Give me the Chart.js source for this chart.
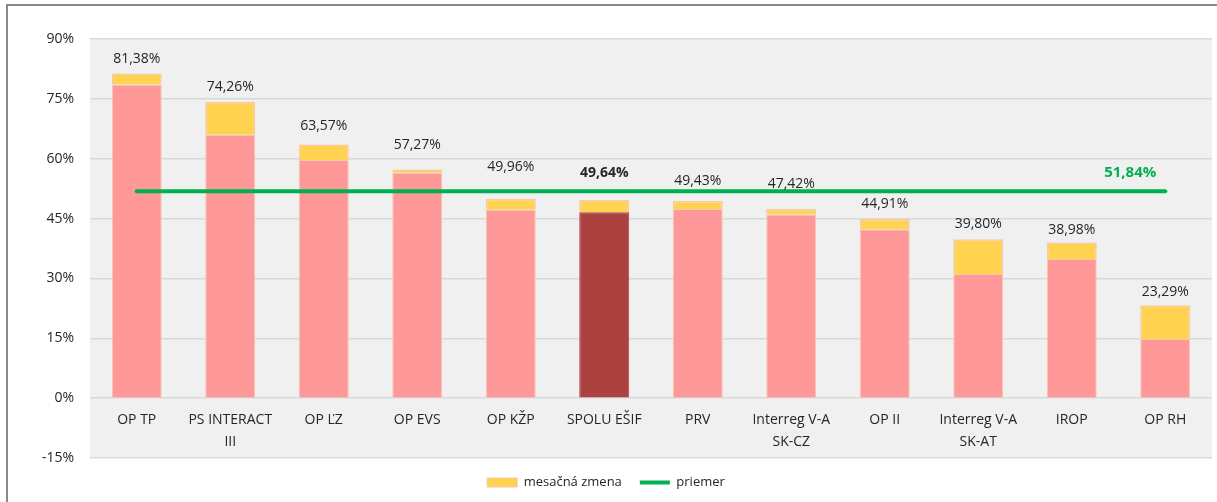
<!DOCTYPE html>
<html>
<head>
<meta charset="utf-8">
<script src="https://cdn.jsdelivr.net/npm/chart.js@4.4.1/dist/chart.umd.min.js"></script>
<style>
    body { margin: 0; background: #fff; overflow: hidden; }
    #wrap { position: relative; width: 1217px; height: 502px; }
    #frame { position: absolute; left: 6px; top: 4px; width: 1220px; height: 520px;
             border-left: 2px solid #8a8a8a; border-top: 2px solid #8a8a8a; }
    canvas { position: absolute; left: 0; top: 0; }
</style>
</head>
<body>
<div id="wrap">
    <div id="frame"></div>
    <canvas id="cerpanieChart" width="1217" height="502"></canvas>
</div>
<script>
//Chart data
const programy = ["OP TP", ["PS INTERACT", "III"], "OP ĽZ", "OP EVS", "OP KŽP", "SPOLU EŠIF", "PRV",
    ["Interreg V-A", "SK-CZ"], "OP II", ["Interreg V-A", "SK-AT"], "IROP", "OP RH"];
const stavSpolu = [81.38, 74.26, 63.57, 57.27, 49.96, 49.64, 49.43, 47.42, 44.91, 39.80, 38.98, 23.29]; //current totals
const stavMinuly = [78.6, 66.0, 59.7, 56.5, 47.2, 46.6, 47.4, 46.0, 42.3, 31.1, 34.9, 14.8]; //previous month
const priemer = 51.84;
const yTicks = [-15, 0, 15, 30, 45, 60, 75, 90];

const mesacnaZmena = stavSpolu.map((v, i) => +(v - stavMinuly[i]).toFixed(2));

//Colors
const farbaBar = "#ff9999";
const farbaSpolu = "#ad413f";
const farbaZmena = "#ffd24f";
const farbaOkraj = "#f8c8a8";
const farbaPriemer = "#00b050";

const fontFamily = "'Open Sans', sans-serif";
const spoluIndex = 5;

//How far each total label sits above its bar (px)
const labelLift = [14, 15, 18, 25, 32, 27, 20, 25, 15, 15, 13, 13];

//Draw plot background, total labels and average label
const extrasPlugin = {
    id: "extras",
    beforeDraw(chart) {
        const {ctx, chartArea} = chart;
        ctx.save();
        ctx.fillStyle = "#f0f0f0";
        ctx.fillRect(chartArea.left, chartArea.top, chartArea.right - chartArea.left, chartArea.bottom - chartArea.top);
        ctx.restore();
    },
    afterDatasetsDraw(chart) {
        const {ctx} = chart;
        const topMeta = chart.getDatasetMeta(1);
        ctx.save();
        ctx.textAlign = "center";
        ctx.textBaseline = "middle";
        topMeta.data.forEach((bar, i) => {
            ctx.font = (i === spoluIndex ? "bold " : "") + "14px " + fontFamily;
            ctx.fillStyle = "#262626";
            const txt = stavSpolu[i].toFixed(2).replace(".", ",") + "%";
            ctx.fillText(txt, bar.x, bar.y - labelLift[i]);
        });

        //Average label near the line end
        const lineMeta = chart.getDatasetMeta(2);
        const last = lineMeta.data[lineMeta.data.length - 1];
        ctx.font = "bold 15px " + fontFamily;
        ctx.fillStyle = farbaPriemer;
        ctx.textAlign = "right";
        ctx.fillText(priemer.toFixed(2).replace(".", ",") + "%", last.x - 9, last.y - 19);
        ctx.restore();
    }
};

function drawChart() {
    const ctx = document.getElementById("cerpanieChart").getContext("2d");

    new Chart(ctx, {
        data: {
            labels: programy,
            datasets: [
                {
                    type: "bar",
                    label: "minulý mesiac",
                    data: stavMinuly,
                    backgroundColor: stavMinuly.map((v, i) => i === spoluIndex ? farbaSpolu : farbaBar),
                    borderColor: stavMinuly.map((v, i) => i === spoluIndex ? farbaSpolu : farbaOkraj),
                    borderWidth: 1,
                    stack: "s",
                    categoryPercentage: 1,
                    barPercentage: 0.535,
                    order: 2
                },
                {
                    type: "bar",
                    label: "mesačná zmena",
                    data: mesacnaZmena,
                    backgroundColor: farbaZmena,
                    borderColor: farbaOkraj,
                    borderWidth: 1.5,
                    stack: "s",
                    categoryPercentage: 1,
                    barPercentage: 0.535,
                    order: 2
                },
                {
                    type: "line",
                    label: "priemer",
                    data: programy.map(() => priemer),
                    borderColor: farbaPriemer,
                    backgroundColor: farbaPriemer,
                    borderWidth: 4,
                    borderCapStyle: "round",
                    pointRadius: 0,
                    order: 1
                }
            ]
        },
        options: {
            responsive: false,
            animation: false,
            layout: {padding: {left: 0, right: 5, top: 39, bottom: 3}},
            plugins: {
                tooltip: {enabled: false},
                legend: {
                    position: "bottom",
                    labels: {
                        filter: item => item.datasetIndex !== 0,
                        sort: (a, b) => a.datasetIndex - b.datasetIndex,
                        color: "#262626",
                        font: {family: fontFamily, size: 13},
                        usePointStyle: true,
                        pointStyleWidth: 30,
                        boxHeight: 9,
                        padding: 18,
                        generateLabels(chart) {
                            const items = Chart.defaults.plugins.legend.labels.generateLabels(chart);
                            items.forEach(it => {
                                if (it.datasetIndex === 2) {
                                    it.pointStyle = "line";
                                    it.lineWidth = 4;
                                    it.strokeStyle = farbaPriemer;
                                }
                                if (it.datasetIndex === 1) {
                                    it.pointStyle = "rect";
                                    it.lineWidth = 1;
                                    it.strokeStyle = farbaOkraj;
                                }
                            });
                            return items;
                        }
                    }
                }
            },
            scales: {
                x: {
                    stacked: true,
                    position: {y: 0},
                    grid: {display: false},
                    border: {display: false},
                    ticks: {
                        color: "#262626",
                        padding: 3,
                        maxRotation: 0,
                        autoSkip: false,
                        font: {family: fontFamily, size: 14, lineHeight: 1.55}
                    }
                },
                y: {
                    stacked: true,
                    min: -15,
                    max: 90,
                    afterBuildTicks: scale => { scale.ticks = yTicks.map(v => ({value: v})); },
                    afterFit: scale => { scale.width = 90; },
                    grid: {color: "#d9d9d9", lineWidth: 1.5, drawTicks: false},
                    border: {display: false},
                    ticks: {
                        color: "#262626",
                        padding: 16,
                        font: {family: fontFamily, size: 14},
                        callback: v => v + "%"
                    }
                }
            }
        },
        plugins: [extrasPlugin]
    });
}

document.addEventListener("DOMContentLoaded", drawChart);
</script>
</body>
</html>
